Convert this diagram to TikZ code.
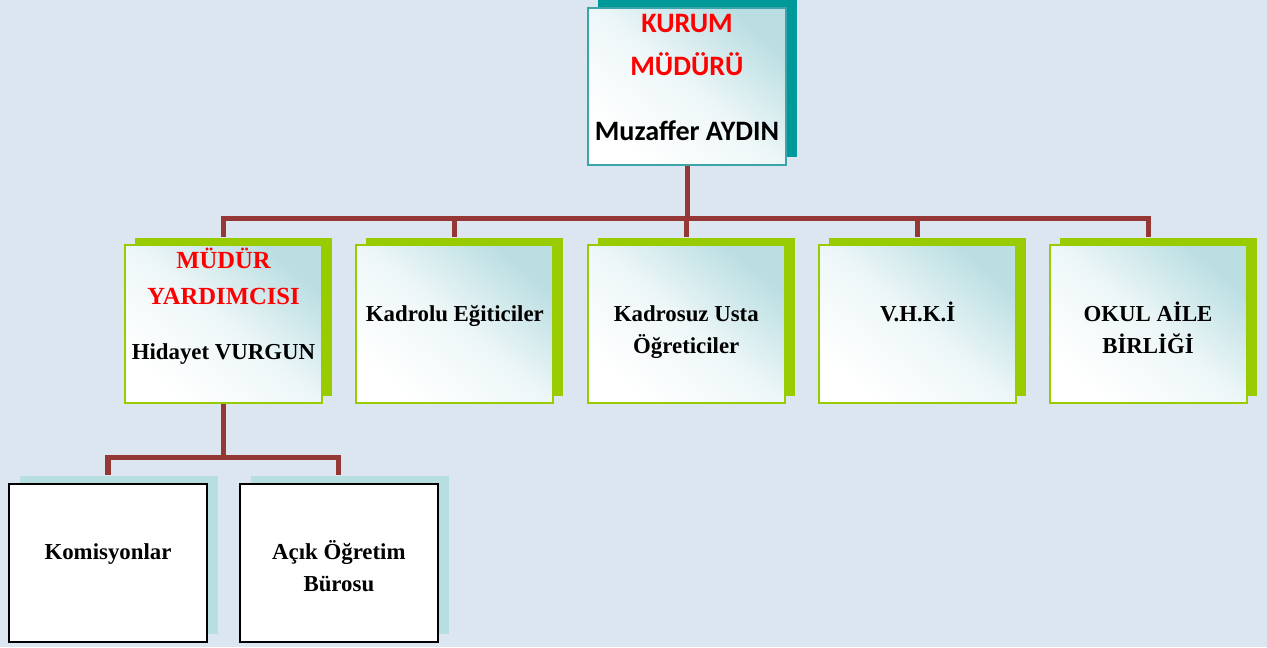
\documentclass[tikz,border=0pt]{standalone}
\usepackage{fontspec}
\setmainfont{Liberation Serif}
\newfontfamily\calibri{Carlito}
\usetikzlibrary{
        calc,
        positioning,
        shadows
    }
\definecolor{bgblue}{RGB}{220,230,241}
\definecolor{headteal}{RGB}{0,153,153}
\definecolor{headline}{RGB}{60,165,172}
\definecolor{fadeteal}{RGB}{186,222,226}
\definecolor{unitgreen}{RGB}{153,204,0}
\definecolor{subteal}{RGB}{183,222,224}
\definecolor{linkred}{RGB}{149,55,53}
\tikzset{node distance=0.65cm}
\tikzset{
    box/.style={rectangle, minimum width=3.94cm, minimum height=3.16cm, inner sep=0pt,
        top color=fadeteal, bottom color=white, middle color=fadeteal!25!white, shading angle=-40},
    headbox/.style={box, minimum width=3.97cm, minimum height=3.15cm, draw=headline, line width=0.9pt,
        general shadow={fill=headteal, shadow xshift=0.21cm, shadow yshift=0.16cm}},
    unitbox/.style={box, draw=unitgreen, line width=1.1pt,
        general shadow={fill=unitgreen, shadow xshift=0.2cm, shadow yshift=0.14cm}},
    subbox/.style={rectangle, minimum width=3.96cm, minimum height=3.16cm, draw=black, fill=white, line width=1.1pt,
        general shadow={fill=subteal, shadow xshift=0.22cm, shadow yshift=0.16cm}},
    tag/.style={anchor=base, inner sep=0pt, align=center, font=\bfseries\fontsize{13}{18.2}\selectfont},
    link/.style={draw=linkred, line width=2.85pt}
}

\begin{document}
\begin{tikzpicture}[x=0.02cm, y=-0.02cm]
\useasboundingbox (0,0) rectangle (1267,647);
    \fill[bgblue] (0,0) rectangle (1267,647);
			% boxes
			\node[headbox] (kurum) at (687,86.5) {};
			\node[unitbox] (muavin) at (223.5,324) {};
			\node[unitbox] (kadrolu) [right=0.65cm of muavin] {};
			\node[unitbox] (kadrosuz) [right=0.65cm of kadrolu] {};
			\node[unitbox] (vhki) [right=0.65cm of kadrosuz] {};
			\node[unitbox] (aile) [right=0.63cm of vhki] {};
			\node[subbox] (komisyon) at (108,563) {};
			\node[subbox] (acik) [right=0.62cm of komisyon] {};
			% texts
			\node[tag, font=\calibri\bfseries\fontsize{16}{24}\selectfont] (kurumT) at ([yshift=-0.52cm]kurum.north)
				{\begin{tabular}[t]{@{}c@{}}\color{red}KURUM\\\color{red}MÜDÜRÜ\\[13pt]Muzaffer AYDIN\end{tabular}};
			\node[tag, font=\bfseries\fontsize{14}{20.5}\selectfont] (muavinT) at ([yshift=-0.48cm]muavin.north)
				{\begin{tabular}[t]{@{}c@{}}\color{red}MÜDÜR\\\color{red}YARDIMCISI\\[10.8pt]\fontsize{13}{18.2}\selectfont Hidayet VURGUN\end{tabular}};
			\node[tag] (kadroluT) at ([yshift=-1.54cm]kadrolu.north) {Kadrolu Eğiticiler};
			\node[tag] (kadrosuzT) at ([yshift=-1.54cm]kadrosuz.north)
				{\begin{tabular}[t]{@{}c@{}}Kadrosuz Usta\\Öğreticiler\end{tabular}};
			\node[tag] (vhkiT) at ([yshift=-1.54cm]vhki.north) {V.H.K.İ};
			\node[tag] (aileT) at ([yshift=-1.54cm]aile.north)
				{\begin{tabular}[t]{@{}c@{}}OKUL AİLE\\BİRLİĞİ\end{tabular}};
			\node[tag] (komisyonT) at ([yshift=-1.52cm]komisyon.north) {Komisyonlar};
			\node[tag] (acikT) at ([yshift=-1.52cm]acik.north)
				{\begin{tabular}[t]{@{}c@{}}Açık Öğretim\\Bürosu\end{tabular}};
			% connectors
			\coordinate[below=1.04cm of kurum.south] (hub);
			\coordinate[below=1.08cm of muavin.south] (subhub);
		\draw[link] (kurum.south) -- (hub);
		\foreach \u in {muavin,kadrolu,kadrosuz,vhki,aile}
			\draw[link] (hub) -| ([yshift=0.14cm]\u.north);
		\draw[link] (muavin.south) -- (subhub);
		\foreach \u in {komisyon,acik}
			\draw[link] (subhub) -| ([yshift=0.16cm]\u.north);
\end{tikzpicture}
\end{document}
